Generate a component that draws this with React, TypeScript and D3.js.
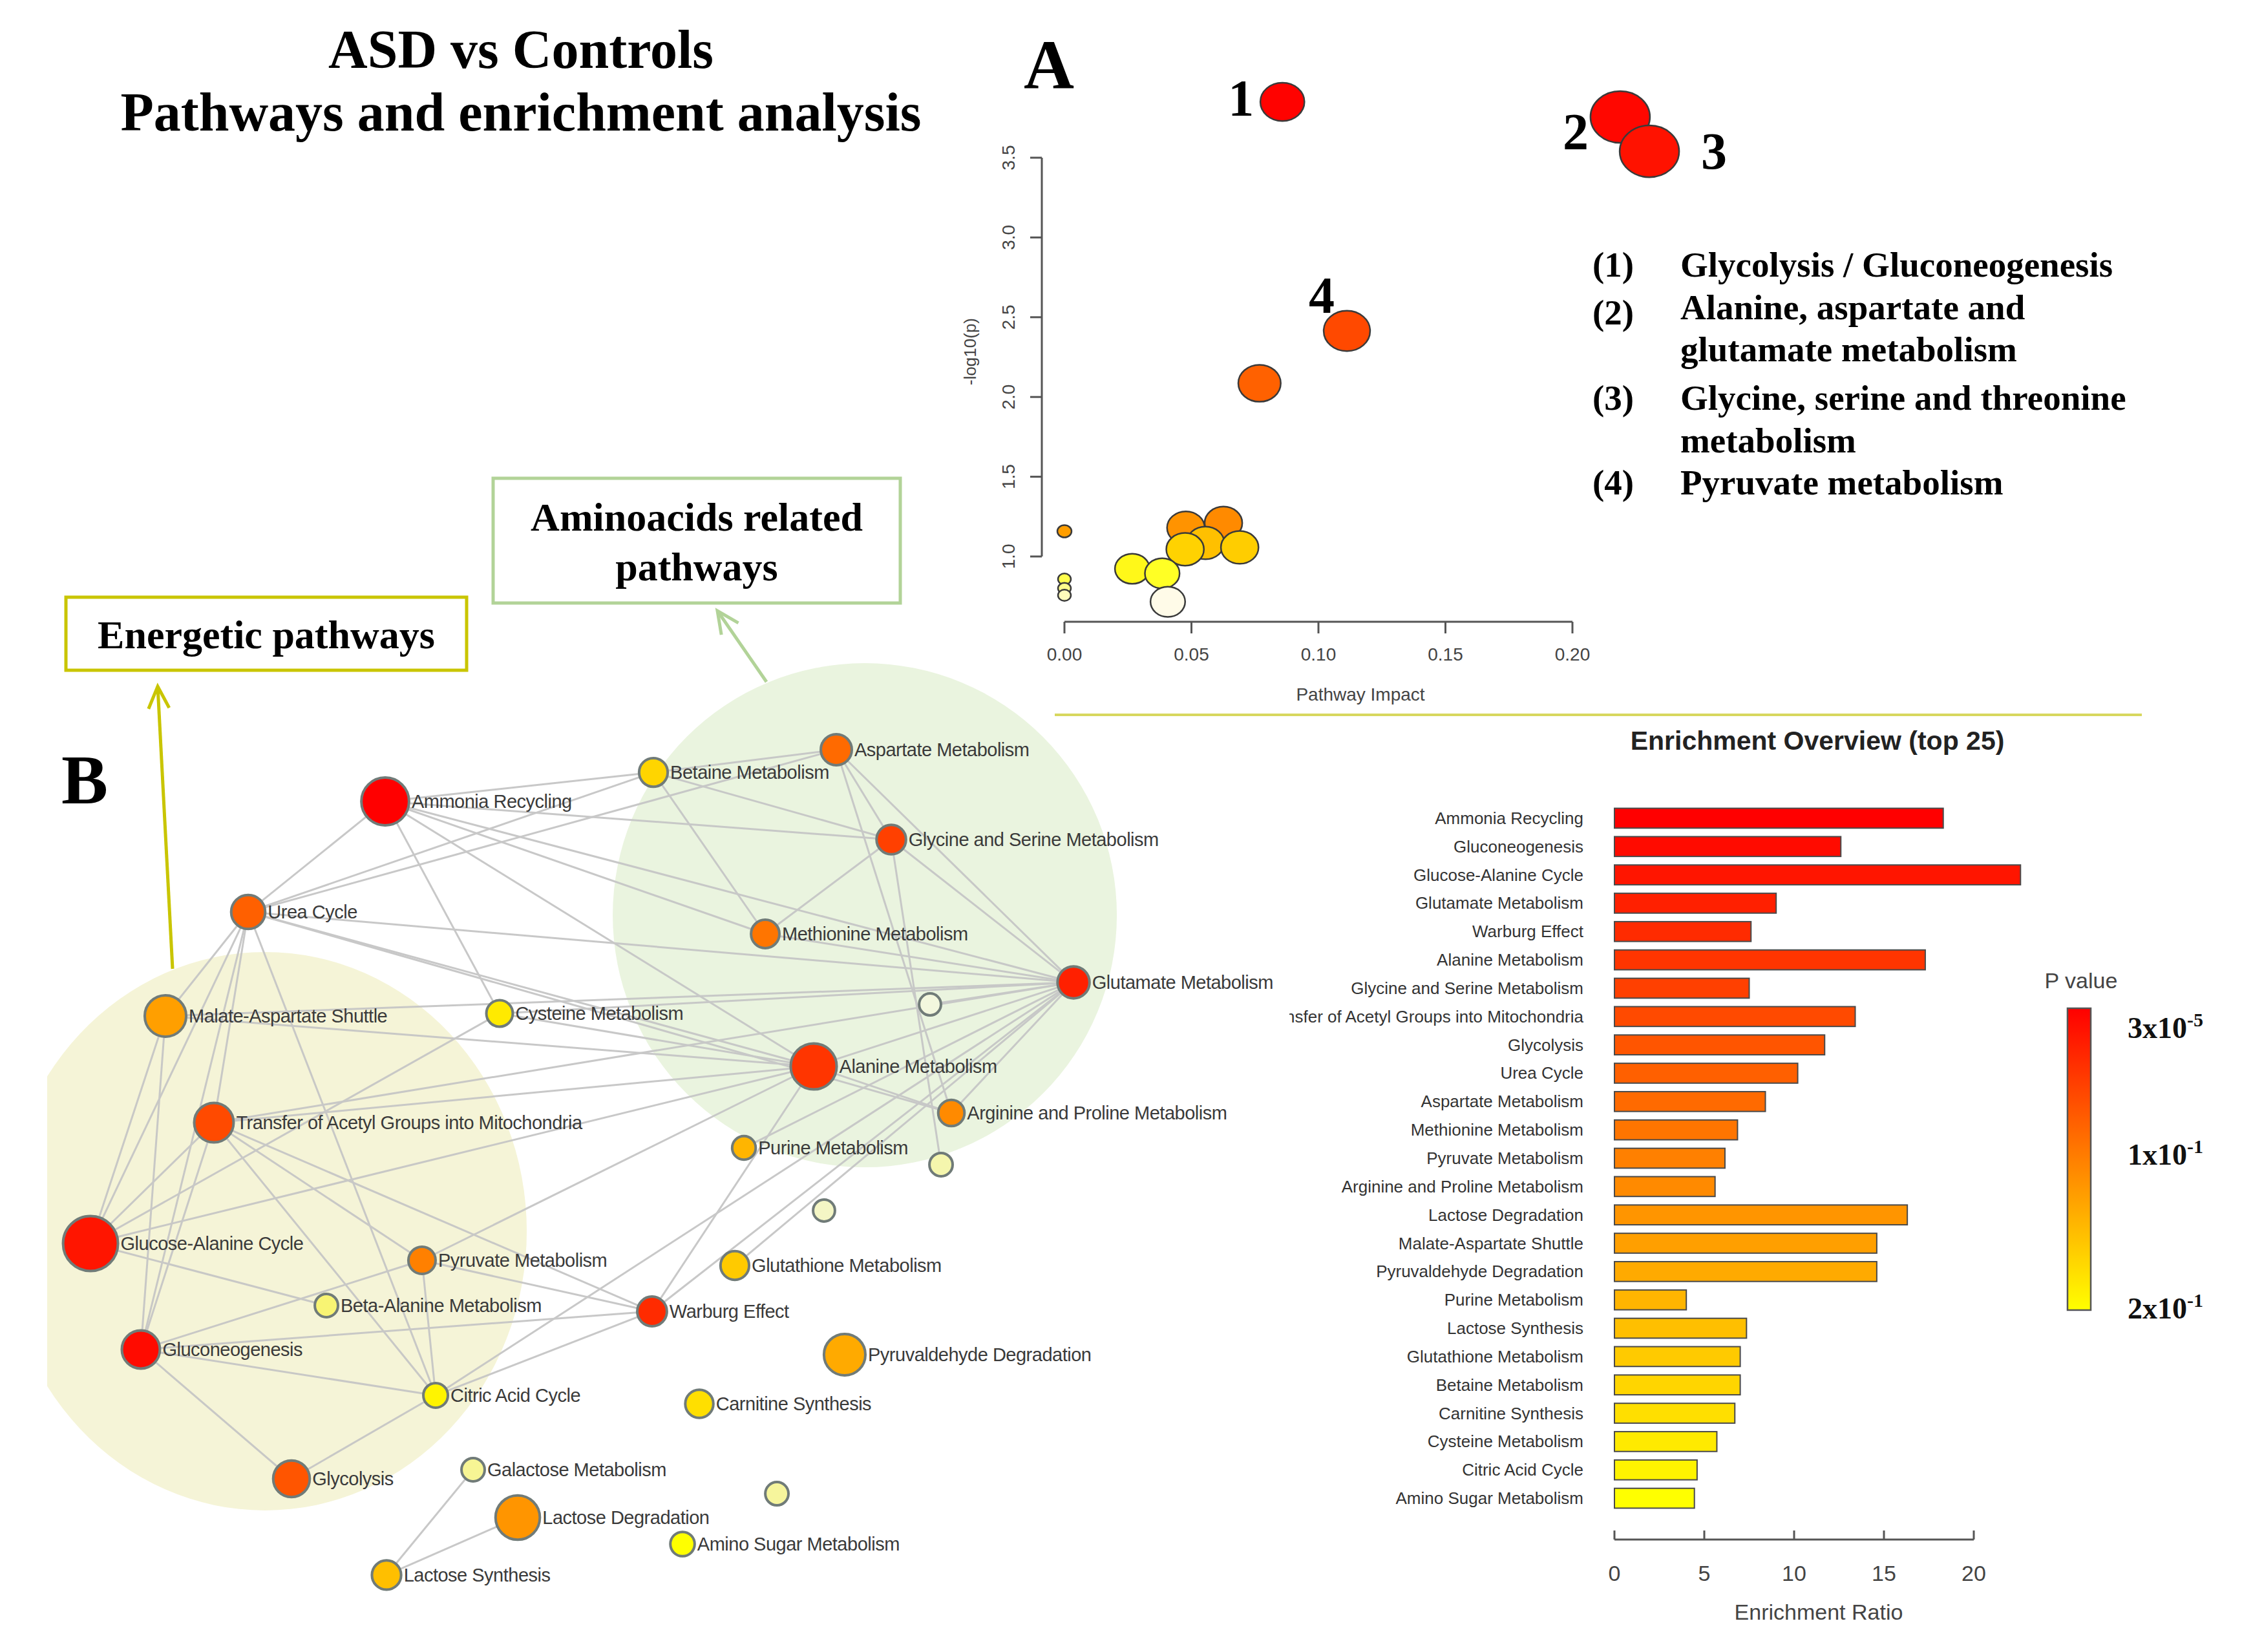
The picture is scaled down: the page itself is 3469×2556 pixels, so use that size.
import React from "react";
import * as d3 from "d3";

// ---------- A: pathway impact bubble plot ----------
const impact = [0.0858, 0.2188, 0.2303, 0.1112, 0.0768, 0.0, 0.0478, 0.0626, 0.0555, 0.069, 0.0475, 0.0267, 0.0385, 0.0407, 0.0, 0.0, 0.0];
const logP = [3.85, 3.755, 3.54, 2.414, 2.086, 1.158, 1.18, 1.21, 1.085, 1.057, 1.045, 0.923, 0.894, 0.716, 0.858, 0.8, 0.757];
const bubbleArea = [0.55, 1, 1, 0.61, 0.51, 0.057, 0.4, 0.4, 0.4, 0.4, 0.4, 0.34, 0.34, 0.34, 0.047, 0.047, 0.047];
const hitTags = ["1", "2", "3", "4"]; // point index 0..3

const legendNums = ["(1)", "(2)", "(3)", "(4)"];
const legendLines = [
  ["Glycolysis / Gluconeogenesis"],
  ["Alanine, aspartate and", "glutamate metabolism"],
  ["Glycine, serine and threonine", "metabolism"],
  ["Pyruvate metabolism"],
];

// ---------- enrichment overview ----------
const pathways = [
  "Ammonia Recycling",
  "Gluconeogenesis",
  "Glucose-Alanine Cycle",
  "Glutamate Metabolism",
  "Warburg Effect",
  "Alanine Metabolism",
  "Glycine and Serine Metabolism",
  "Transfer of Acetyl Groups into Mitochondria",
  "Glycolysis",
  "Urea Cycle",
  "Aspartate Metabolism",
  "Methionine Metabolism",
  "Pyruvate Metabolism",
  "Arginine and Proline Metabolism",
  "Lactose Degradation",
  "Malate-Aspartate Shuttle",
  "Pyruvaldehyde Degradation",
  "Purine Metabolism",
  "Lactose Synthesis",
  "Glutathione Metabolism",
  "Betaine Metabolism",
  "Carnitine Synthesis",
  "Cysteine Metabolism",
  "Citric Acid Cycle",
  "Amino Sugar Metabolism",
];
const enrichment = [18.3, 12.6, 22.6, 9.0, 7.6, 17.3, 7.5, 13.4, 11.7, 10.2, 8.4, 6.85, 6.15, 5.6, 16.3, 14.6, 14.6, 4.0, 7.35, 7.0, 7.0, 6.7, 5.7, 4.6, 4.45];
const pLabels = [
  ["3x10", "-5"],
  ["1x10", "-1"],
  ["2x10", "-1"],
];

// ---------- B: pathway network (layout units 0..1000) ----------
const nodeIds = ["amm", "bet", "asp", "gly", "urea", "met", "glu", "mal", "cys", "u1", "ala", "tra", "arg", "pur", "u2", "u3", "gac", "pyr", "gsh", "bala", "war", "gng", "pyd", "cit", "car", "gol", "gal", "lde", "u4", "ams", "lsy"];
const nodeNames = [
  "Ammonia Recycling", "Betaine Metabolism", "Aspartate Metabolism", "Glycine and Serine Metabolism",
  "Urea Cycle", "Methionine Metabolism", "Glutamate Metabolism", "Malate-Aspartate Shuttle",
  "Cysteine Metabolism", "", "Alanine Metabolism", "Transfer of Acetyl Groups into Mitochondria",
  "Arginine and Proline Metabolism", "Purine Metabolism", "", "", "Glucose-Alanine Cycle",
  "Pyruvate Metabolism", "Glutathione Metabolism", "Beta-Alanine Metabolism", "Warburg Effect",
  "Gluconeogenesis", "Pyruvaldehyde Degradation", "Citric Acid Cycle", "Carnitine Synthesis",
  "Glycolysis", "Galactose Metabolism", "Lactose Degradation", "", "Amino Sugar Metabolism", "Lactose Synthesis",
];
const nodeX = [315.3, 559.4, 725.9, 775.9, 190.6, 661.2, 941.8, 115.3, 419.4, 811.2, 705.3, 159.4, 830.6, 641.8, 821.2, 714.7, 47.1, 348.8, 633.5, 261.8, 558.2, 92.9, 733.5, 361.2, 601.2, 230.0, 395.3, 435.9, 671.8, 585.9, 316.5];
const nodeY = [68.7, 34.4, 7.6, 113.7, 199.2, 225.2, 282.4, 322.1, 319.1, 308.4, 381.7, 448.1, 436.6, 477.9, 497.7, 551.9, 590.8, 610.7, 616.8, 664.1, 671.0, 716.0, 722.1, 770.2, 780.2, 868.7, 858.0, 914.5, 886.3, 945.8, 982.4];
// nodes outside the top 25 (u1, u2, u3, bala, gal, u4)
const minorRatio = [3.0, 3.8, 3.0, 3.8, 3.8, 3.8];
const minorShade = [1.0, 0.7, 0.85, 0.35, 0.55, 0.6];
const edges: [string, string][] = [
  ["amm", "urea"], ["amm", "cys"], ["amm", "bet"], ["amm", "gly"], ["amm", "met"], ["amm", "glu"], ["amm", "ala"],
  ["urea", "asp"], ["urea", "bet"], ["urea", "glu"], ["urea", "ala"], ["urea", "arg"], ["urea", "mal"], ["urea", "tra"],
  ["urea", "gac"], ["urea", "gng"], ["urea", "cit"],
  ["bet", "asp"], ["bet", "met"], ["bet", "gly"],
  ["asp", "glu"], ["asp", "arg"], ["asp", "gly"],
  ["gly", "met"], ["gly", "glu"], ["gly", "u2"], ["met", "glu"],
  ["glu", "u1"], ["glu", "ala"], ["glu", "arg"], ["glu", "pur"], ["glu", "gsh"], ["glu", "war"], ["glu", "cys"],
  ["glu", "tra"], ["glu", "cit"], ["glu", "mal"],
  ["ala", "arg"], ["ala", "cys"], ["ala", "tra"], ["ala", "pyr"], ["ala", "war"], ["ala", "gac"], ["ala", "mal"],
  ["mal", "gac"], ["mal", "gng"],
  ["tra", "gac"], ["tra", "gng"], ["tra", "pyr"], ["tra", "cit"], ["tra", "war"],
  ["cys", "gac"], ["gac", "bala"],
  ["gng", "pyr"], ["gng", "war"], ["gng", "cit"], ["gng", "gol"],
  ["pyr", "cit"], ["pyr", "war"], ["gol", "cit"], ["cit", "war"],
  ["gal", "lsy"], ["lde", "lsy"],
];

const serif = "'Liberation Serif', 'Times New Roman', serif";
const sans = "'Liberation Sans', Arial, sans-serif";
const yellowLine = "#c9c500";
const greenLine = "#b2d398";

function arrowHead(tail: [number, number], tip: [number, number], len: number, half: number) {
  const dx = tip[0] - tail[0];
  const dy = tip[1] - tail[1];
  const l = Math.hypot(dx, dy);
  const ux = dx / l, uy = dy / l;
  const bx = tip[0] - ux * len, by = tip[1] - uy * len;
  return `M${bx - uy * half},${by + ux * half}L${tip[0]},${tip[1]}L${bx + uy * half},${by - ux * half}`;
}

export default function App() {
  // scatter
  const sx = d3.scaleLinear().domain([0, 0.2]).range([1647, 2433]);
  const sy = d3.scaleLinear().domain([1, 3.5]).range([861, 244]);
  const sr = d3.scaleSqrt().domain([0, 1]).range([0, 46]);
  const heat = d3
    .scaleLinear<string>()
    .domain([0.72, 0.9, 1.05, 1.2, 2.1, 2.4, 3.9])
    .range(["#fffbe4", "#ffff1e", "#ffd000", "#ff8a00", "#ff6000", "#ff4a00", "#ff0000"])
    .interpolate(d3.interpolateRgb);

  // bars
  const bx = d3.scaleLinear().domain([0, 20]).range([2498, 3054]);
  const by = d3.scaleBand<string>().domain(pathways).range([1244, 2340]).paddingInner(0.3).paddingOuter(0.15);
  const barColor = (i: number) => d3.interpolateRgb("#ff0000", "#ffff00")(i / (pathways.length - 1));

  // network
  const nx = d3.scaleLinear().domain([0, 1000]).range([60, 1760]);
  const ny = d3.scaleLinear().domain([0, 1000]).range([1150, 2460]);
  const nr = d3.scaleLinear().domain([0, 22.6]).range([13, 42.5]);
  const pale = d3.interpolateRgb("#fbf23a", "#f3f7de");
  let minorCount = 0;
  const nodes = nodeIds.map((id, i) => {
    const k = pathways.indexOf(nodeNames[i]);
    let ratio: number, fill: string;
    if (k >= 0) {
      ratio = enrichment[k];
      fill = barColor(k);
    } else {
      ratio = minorRatio[minorCount];
      fill = pale(minorShade[minorCount]);
      minorCount++;
    }
    return { id, name: nodeNames[i], x: nx(nodeX[i]), y: ny(nodeY[i]), r: nr(ratio), fill };
  });
  const byId = new Map(nodes.map((n) => [n.id, n]));

  const yArrowTail: [number, number] = [267, 1499];
  const yArrowTip: [number, number] = [244, 1062];
  const gArrowTail: [number, number] = [1186, 1055];
  const gArrowTip: [number, number] = [1110, 945];

  const hitOffsets = [
    { dx: -44, dy: 21, anchor: "end" },
    { dx: -49, dy: 50, anchor: "end" },
    { dx: 80, dy: 27, anchor: "start" },
    { dx: -39, dy: -28, anchor: "middle" },
  ];

  return (
    <div style={{ position: "absolute", left: 0, top: 0 }}>
      <svg width={3469} height={2556} viewBox="0 0 3469 2556" style={{ display: "block", background: "#fff" }}>
        <defs>
          <linearGradient id="pgrad" x1="0" y1="0" x2="0" y2="1">
            <stop offset="0" stopColor="#ff0000" />
            <stop offset="1" stopColor="#ffff00" />
          </linearGradient>
          <clipPath id="leftClip">
            <rect x={73} y={0} width={3400} height={2556} />
          </clipPath>
          <clipPath id="barLabelClip">
            <rect x={1995} y={1150} width={1400} height={1300} />
          </clipPath>
        </defs>

        {/* title */}
        <g fontFamily={serif} fontWeight="bold" fontSize={84} textAnchor="middle" fill="#000">
          <text x={806} y={105}>ASD vs Controls</text>
          <text x={806} y={202}>Pathways and enrichment analysis</text>
        </g>

        {/* ---------- network ---------- */}
        <g clipPath="url(#leftClip)">
          <ellipse cx={nx(205.9)} cy={ny(576.3)} rx={405} ry={432} fill="#f5f4d7" />
        </g>
        <ellipse cx={nx(751.8)} cy={ny(203.1)} rx={390} ry={390} fill="#eaf4df" />
        <g stroke="#c6c6c6" strokeWidth={3} opacity={0.95}>
          {edges.map(([a, b], i) => {
            const s = byId.get(a)!;
            const t = byId.get(b)!;
            return <line key={i} x1={s.x} y1={s.y} x2={t.x} y2={t.y} />;
          })}
        </g>
        <g>
          {nodes.map((n) => (
            <circle key={n.id} cx={n.x} cy={n.y} r={n.r} fill={n.fill} stroke="#707b78" strokeWidth={4} />
          ))}
        </g>
        <g fontFamily={sans} fontSize={29} fill="#3a3a3a" letterSpacing={-0.5}>
          {nodes
            .filter((n) => n.name)
            .map((n) => (
              <text key={n.id} x={n.x + n.r + 4} y={n.y + 10}>
                {n.name}
              </text>
            ))}
        </g>

        {/* boxes and arrows */}
        <rect x={102} y={924} width={620} height={113} fill="#fff" stroke={yellowLine} strokeWidth={5} />
        <text x={412} y={1003} fontFamily={serif} fontWeight="bold" fontSize={62} textAnchor="middle">
          Energetic pathways
        </text>
        <rect x={763} y={740} width={630} height={193} fill="#fff" stroke={greenLine} strokeWidth={5} />
        <g fontFamily={serif} fontWeight="bold" fontSize={62} textAnchor="middle">
          <text x={1078} y={821}>Aminoacids related</text>
          <text x={1078} y={898}>pathways</text>
        </g>
        <line x1={yArrowTail[0]} y1={yArrowTail[1]} x2={yArrowTip[0]} y2={yArrowTip[1]} stroke={yellowLine} strokeWidth={5} />
        <path d={arrowHead(yArrowTail, yArrowTip, 34, 16)} fill="none" stroke={yellowLine} strokeWidth={5} />
        <line x1={gArrowTail[0]} y1={gArrowTail[1]} x2={gArrowTip[0]} y2={gArrowTip[1]} stroke={greenLine} strokeWidth={5} />
        <path d={arrowHead(gArrowTail, gArrowTip, 34, 16)} fill="none" stroke={greenLine} strokeWidth={5} />

        <text x={95} y={1243} fontFamily={serif} fontWeight="bold" fontSize={108}>B</text>

        {/* ---------- A: bubble plot ---------- */}
        <text x={1584} y={137} fontFamily={serif} fontWeight="bold" fontSize={108}>A</text>
        <g stroke="#555" strokeWidth={3} fill="none">
          <line x1={sx(0)} x2={sx(0.2)} y1={962} y2={962} />
          {sx.ticks(4).map((t) => (
            <line key={t} x1={sx(t)} x2={sx(t)} y1={962} y2={980} />
          ))}
          <line x1={1612} x2={1612} y1={sy(1)} y2={sy(3.5)} />
          {sy.ticks(6).map((t) => (
            <line key={t} x1={1612} x2={1594} y1={sy(t)} y2={sy(t)} />
          ))}
        </g>
        <g fontFamily={sans} fontSize={28} fill="#444">
          {sx.ticks(4).map((t) => (
            <text key={t} x={sx(t)} y={1022} textAnchor="middle">
              {d3.format(".2f")(t)}
            </text>
          ))}
          {sy.ticks(6).map((t) => (
            <text key={t} transform={`translate(1570,${sy(t)}) rotate(-90)`} textAnchor="middle">
              {d3.format(".1f")(t)}
            </text>
          ))}
          <text x={2105} y={1084} textAnchor="middle">Pathway Impact</text>
          <text transform="translate(1510,544) rotate(-90)" textAnchor="middle" fontSize={26}>-log10(p)</text>
        </g>
        <g stroke="#3a3a3a" strokeWidth={2.5}>
          {impact.map((v, i) => {
            const rx = sr(bubbleArea[i]);
            return <ellipse key={i} cx={sx(v)} cy={sy(logP[i])} rx={rx} ry={rx * 0.87} fill={heat(logP[i])} />;
          })}
        </g>
        <g fontFamily={serif} fontWeight="bold" fontSize={80}>
          {hitTags.map((tag, i) => (
            <text
              key={tag}
              x={sx(impact[i]) + hitOffsets[i].dx}
              y={sy(logP[i]) + hitOffsets[i].dy}
              textAnchor={hitOffsets[i].anchor as any}
            >
              {tag}
            </text>
          ))}
        </g>
        <g fontFamily={serif} fontWeight="bold" fontSize={55}>
          {(() => {
            const out: React.ReactNode[] = [];
            let line = 0;
            const base = 428;
            const gaps = [0, 66, 131, 206, 272, 337];
            legendLines.forEach((rows, i) => {
              out.push(
                <text key={`n${i}`} x={2464} y={base + gaps[line] + (i === 1 ? 8 : 0)}>
                  {legendNums[i]}
                </text>
              );
              rows.forEach((row, j) => {
                out.push(
                  <text key={`r${i}-${j}`} x={2600} y={base + gaps[line]}>
                    {row}
                  </text>
                );
                line++;
              });
            });
            return out;
          })()}
        </g>

        {/* separator */}
        <line x1={1632} x2={3314} y1={1106} y2={1106} stroke="#d7d75e" strokeWidth={4} />

        {/* ---------- enrichment overview ---------- */}
        <text x={2812} y={1160} fontFamily={sans} fontWeight="bold" fontSize={41} textAnchor="middle" fill="#222">
          Enrichment Overview (top 25)
        </text>
        <g stroke="#4a4a4a" strokeWidth={2}>
          {pathways.map((p, i) => (
            <rect
              key={p}
              x={bx(0)}
              y={by(p)!}
              width={bx(enrichment[i]) - bx(0)}
              height={by.bandwidth()}
              fill={barColor(i)}
            />
          ))}
        </g>
        <g fontFamily={sans} fontSize={26} fill="#333" textAnchor="end" clipPath="url(#barLabelClip)">
          {pathways.map((p) => (
            <text key={p} x={2450} y={by(p)! + by.bandwidth() / 2 + 9}>
              {p}
            </text>
          ))}
        </g>
        <g stroke="#555" strokeWidth={3}>
          <line x1={bx(0)} x2={bx(20)} y1={2382} y2={2382} />
          {bx.ticks(4).map((t) => (
            <line key={t} x1={bx(t)} x2={bx(t)} y1={2382} y2={2368} />
          ))}
        </g>
        <g fontFamily={sans} fontSize={34} fill="#444" textAnchor="middle">
          {bx.ticks(4).map((t) => (
            <text key={t} x={bx(t)} y={2446}>
              {t}
            </text>
          ))}
          <text x={2814} y={2506}>Enrichment Ratio</text>
        </g>

        {/* p value colour key */}
        <text x={3220} y={1529} fontFamily={sans} fontSize={34} fill="#444" textAnchor="middle">
          P value
        </text>
        <rect x={3199} y={1560} width={36} height={467} fill="url(#pgrad)" stroke="#555" strokeWidth={2.5} />
        <g fontFamily={serif} fontWeight="bold" fontSize={46} fill="#111">
          {pLabels.map(([m, e], i) => (
            <text key={i} x={3292} y={[1606, 1802, 2040][i]}>
              {m}
              <tspan dy={-18} fontSize={30}>
                {e}
              </tspan>
            </text>
          ))}
        </g>
      </svg>
    </div>
  );
}
